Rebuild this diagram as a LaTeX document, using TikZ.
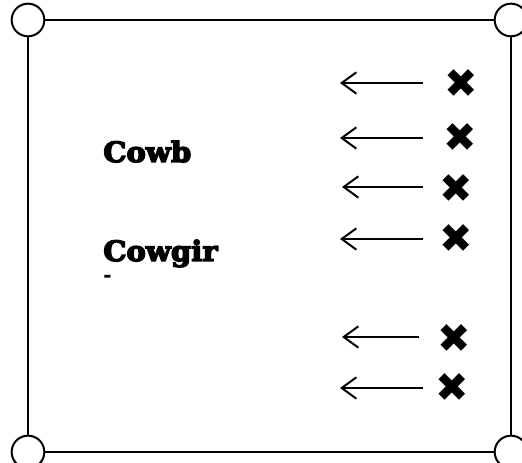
\documentclass[tikz,border=0pt]{standalone}
\usepackage{fontspec}
\usetikzlibrary{arrows.meta}
\newfontfamily\labfont[FakeBold=5,FakeStretch=1.04]{DejaVu Serif}
\newfontfamily\symfont{DejaVu Sans}
\begin{document}
\begin{tikzpicture}[x=0.75pt,y=-0.75pt,
  corner/.style={circle,draw=black,fill=white,line width=1.5pt,minimum size=24.5pt,inner sep=0pt},
  cross/.style={inner sep=0pt,font=\symfont\fontsize{30}{30}\selectfont},
  lab/.style={inner sep=0pt,anchor=base west,font=\labfont\bfseries\fontsize{21}{24}\selectfont},
  arr/.style={line width=1.8pt,-{Straight Barb[length=11pt,width=16pt,line width=1.5pt]}}]
\useasboundingbox (0,0) rectangle (522,463);
\coordinate (tl) at (28,20);
\coordinate (tr) at (511,20);
\coordinate (br) at (511,452);
\coordinate (bl) at (28,452);
\draw[line width=1.8pt] (tl) -- (tr) -- (br) -- (bl) -- cycle;
\node[corner] (c1) at (tl) {};
\node[corner] (c2) at (tr) {};
\node[corner] (c3) at (br) {};
\node[corner] (c4) at (bl) {};
\node[lab] (t1) at (103,162) {Cowb};
\node[lab] (t2) at (103,261) {Cowgir};
\node[inner sep=0pt,anchor=west,font=\symfont\bfseries\fontsize{15}{15}\selectfont] (t3) at (103,279) {-};
% crosses and arrows
\node[cross] (x1) at (461,84) {✖};
\node[cross] (x2) at (460,138) {✖};
\node[cross] (x3) at (456,189) {✖};
\node[cross] (x4) at (456,239) {✖};
\node[cross] (x5) at (454,339) {✖};
\node[cross] (x6) at (452,388) {✖};
\coordinate (s1) at (423,83);  \coordinate (e1) at (340,83);
\coordinate (s2) at (423,138); \coordinate (e2) at (340,138);
\coordinate (s3) at (423,187); \coordinate (e3) at (342,187);
\coordinate (s4) at (423,239); \coordinate (e4) at (340,239);
\coordinate (s5) at (419,337); \coordinate (e5) at (342,337);
\coordinate (s6) at (423,388); \coordinate (e6) at (340,388);
\foreach \i in {1,...,6} \draw[arr] (s\i) -- (e\i);
\end{tikzpicture}
\end{document}
